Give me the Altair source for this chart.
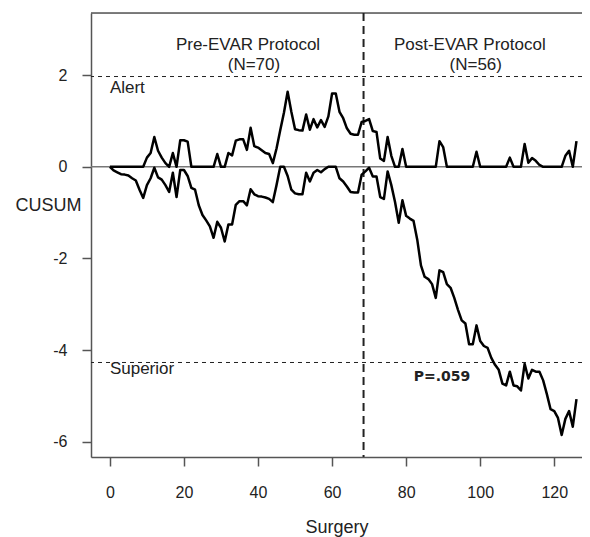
import altair as alt
import pandas as pd

# ---- data ----
surgery = list(range(127))

upper = [
    0, 0, 0, 0, 0, 0, 0, 0, 0, 0,
    0.2, 0.3, 0.65, 0.35, 0.2, 0.08, 0, 0.3, 0, 0.58,
    0.58, 0.55, 0, 0, 0, 0, 0, 0, 0, 0.28,
    0, 0, 0.3, 0.25, 0.57, 0.6, 0.6, 0.37, 0.85, 0.45,
    0.42, 0.36, 0.3, 0.28, 0.08, 0.4, 0.8, 1.18, 1.64, 1.2,
    0.82, 0.8, 0.79, 1.14, 0.81, 1.04, 0.86, 1.02, 0.87, 1.1,
    1.6, 1.6, 1.2, 1.06, 0.84, 0.72, 0.7, 0.7, 0.98, 1.0,
    1.04, 0.78, 0.76, 0.18, 0.13, 0.65, 0.24, 0, 0, 0.39,
    0, 0, 0, 0, 0, 0, 0, 0, 0, 0.56,
    0.43, 0, 0, 0, 0, 0, 0, 0, 0, 0.33,
    0, 0, 0, 0, 0, 0, 0, 0, 0.2, 0,
    0, 0, 0.5, 0.09, 0.19, 0.13, 0.04, 0, 0, 0,
    0, 0, 0, 0.24, 0.35, 0, 0.56,
]

lower = [
    0, -0.08, -0.12, -0.16, -0.17, -0.19, -0.25, -0.3, -0.5, -0.68,
    -0.4, -0.25, -0.02, -0.23, -0.28, -0.4, -0.55, -0.13, -0.66, -0.07,
    -0.07, -0.2, -0.46, -0.5, -0.84, -1.05, -1.17, -1.3, -1.55, -1.2,
    -1.33, -1.63, -1.26, -1.26, -0.83, -0.75, -0.75, -0.84, -0.49, -0.6,
    -0.64, -0.65, -0.67, -0.7, -0.77, -0.4, 0, 0, -0.2, -0.5,
    -0.58, -0.6, -0.6, -0.13, -0.32, -0.13, -0.07, -0.12, -0.05, 0,
    0, 0, -0.25, -0.32, -0.43, -0.55, -0.56, -0.56, -0.17, -0.1,
    -0.02, -0.21, -0.21, -0.66, -0.7, -0.1, -0.4, -0.77, -1.22, -0.73,
    -1.07, -1.13, -1.18, -1.59, -2.15, -2.4, -2.45, -2.56, -2.86, -2.26,
    -2.3, -2.56, -2.64, -2.86, -3.12, -3.35, -3.42, -3.87, -3.87, -3.46,
    -3.8, -3.91, -3.95, -4.17, -4.32, -4.43, -4.73, -4.77, -4.47, -4.77,
    -4.79, -4.88, -4.3, -4.62, -4.43, -4.47, -4.47, -4.66, -4.96, -5.29,
    -5.33, -5.48, -5.85, -5.5, -5.33, -5.67, -5.07,
]

x_ticks = [0, 20, 40, 60, 80, 100, 120]
y_ticks = [-6, -4, -2, 0, 2]

h_lines = [1.97, -4.27]        # Alert / Superior limits
v_line = [68.5]                # protocol change

header_text = ["Pre-EVAR Protocol", "(N=70)", "Post-EVAR Protocol", "(N=56)"]
header_x = [37.3, 38.9, 97.2, 98.8]
header_y = [2.65, 2.22, 2.65, 2.22]

limit_text = ["Alert", "Superior"]
limit_x = [0, 0]
limit_y = [1.71, -4.41]

p_text = ["P=.059"]
p_x = [89.7]
p_y = [-4.58]

# ---- tables ----
lines_df = pd.DataFrame({
    "Surgery": surgery * 2,
    "CUSUM": upper + lower,
    "series": ["upper"] * len(upper) + ["lower"] * len(lower),
})
hdf = pd.DataFrame({"y": h_lines})
vdf = pd.DataFrame({"x": v_line})
head_df = pd.DataFrame({"t": header_text, "x": header_x, "y": header_y})
lim_df = pd.DataFrame({"t": limit_text, "x": limit_x, "y": limit_y})
p_df = pd.DataFrame({"t": p_text, "x": p_x, "y": p_y})

W, H = 491, 444
xs = alt.Scale(domain=[-5.1, 127.49], nice=False, zero=False)
ys = alt.Scale(domain=[-6.332, 3.356], nice=False, zero=False)
FONT = "Liberation Sans"

x_axis = alt.Axis(values=x_ticks, title="Surgery", grid=False, tickSize=9,
                  labelFontSize=16, labelPadding=18, labelFont=FONT, labelColor="#222",
                  tickColor="#555", tickWidth=1.5, domainColor="#555", domainWidth=1.5,
                  titleFont=FONT, titleFontSize=18, titleFontWeight="normal",
                  titleColor="#222", titleY=75, titleBaseline="alphabetic")
y_axis = alt.Axis(values=y_ticks, title="CUSUM", grid=False, tickSize=9,
                  labelExpr="toString(datum.value)",
                  labelFontSize=16, labelPadding=15, labelFont=FONT, labelColor="#222",
                  tickColor="#555", tickWidth=1.5, domainColor="#555", domainWidth=1.5,
                  titleFont=FONT, titleFontSize=18, titleFontWeight="normal",
                  titleColor="#222", titleAngle=0, titleX=-43, titleY=192,
                  titleAlign="center", titleBaseline="middle")

zero = alt.Chart(pd.DataFrame({"y": [0]})).mark_rule(color="#777", strokeWidth=1.5).encode(
    y=alt.Y("y:Q", scale=ys, axis=y_axis))

top_border = alt.Chart(pd.DataFrame({"y": [0]})).mark_rule(color="#555", strokeWidth=1.5).encode(
    x=alt.value(0), x2=alt.value(W), y=alt.value(0))

hl = alt.Chart(hdf).mark_rule(color="#222", strokeWidth=1, strokeDash=[4, 4]).encode(
    y=alt.Y("y:Q", scale=ys))

vl = alt.Chart(vdf).mark_rule(color="#222", strokeWidth=2, strokeDash=[8, 5]).encode(
    x=alt.X("x:Q", scale=xs))

cusum = alt.Chart(lines_df).mark_line(color="black", strokeWidth=2.5, strokeJoin="round").encode(
    x=alt.X("Surgery:Q", scale=xs, axis=x_axis),
    y=alt.Y("CUSUM:Q", scale=ys),
    detail="series:N",
)

heads = alt.Chart(head_df).mark_text(font=FONT, fontSize=17, color="#222", align="center",
                                     baseline="middle").encode(
    x=alt.X("x:Q", scale=xs), y=alt.Y("y:Q", scale=ys), text="t:N")

lims = alt.Chart(lim_df).mark_text(font=FONT, fontSize=17, color="#222", align="left",
                                   baseline="middle").encode(
    x=alt.X("x:Q", scale=xs), y=alt.Y("y:Q", scale=ys), text="t:N")

ptxt = alt.Chart(p_df).mark_text(font="DejaVu Sans", fontSize=14, fontWeight="bold", color="#222",
                                 align="center", baseline="middle").encode(
    x=alt.X("x:Q", scale=xs), y=alt.Y("y:Q", scale=ys), text="t:N")

chart = alt.layer(zero, top_border, hl, vl, cusum, heads, lims, ptxt).properties(
    width=W, height=H,
    autosize=alt.AutoSizeParams(type="none"),
    padding={"left": 83, "top": 5, "right": 0, "bottom": 80},
).configure_view(strokeWidth=0).configure(background="white")

chart.save("out.html", embed_options={"renderer": "svg", "actions": False})
